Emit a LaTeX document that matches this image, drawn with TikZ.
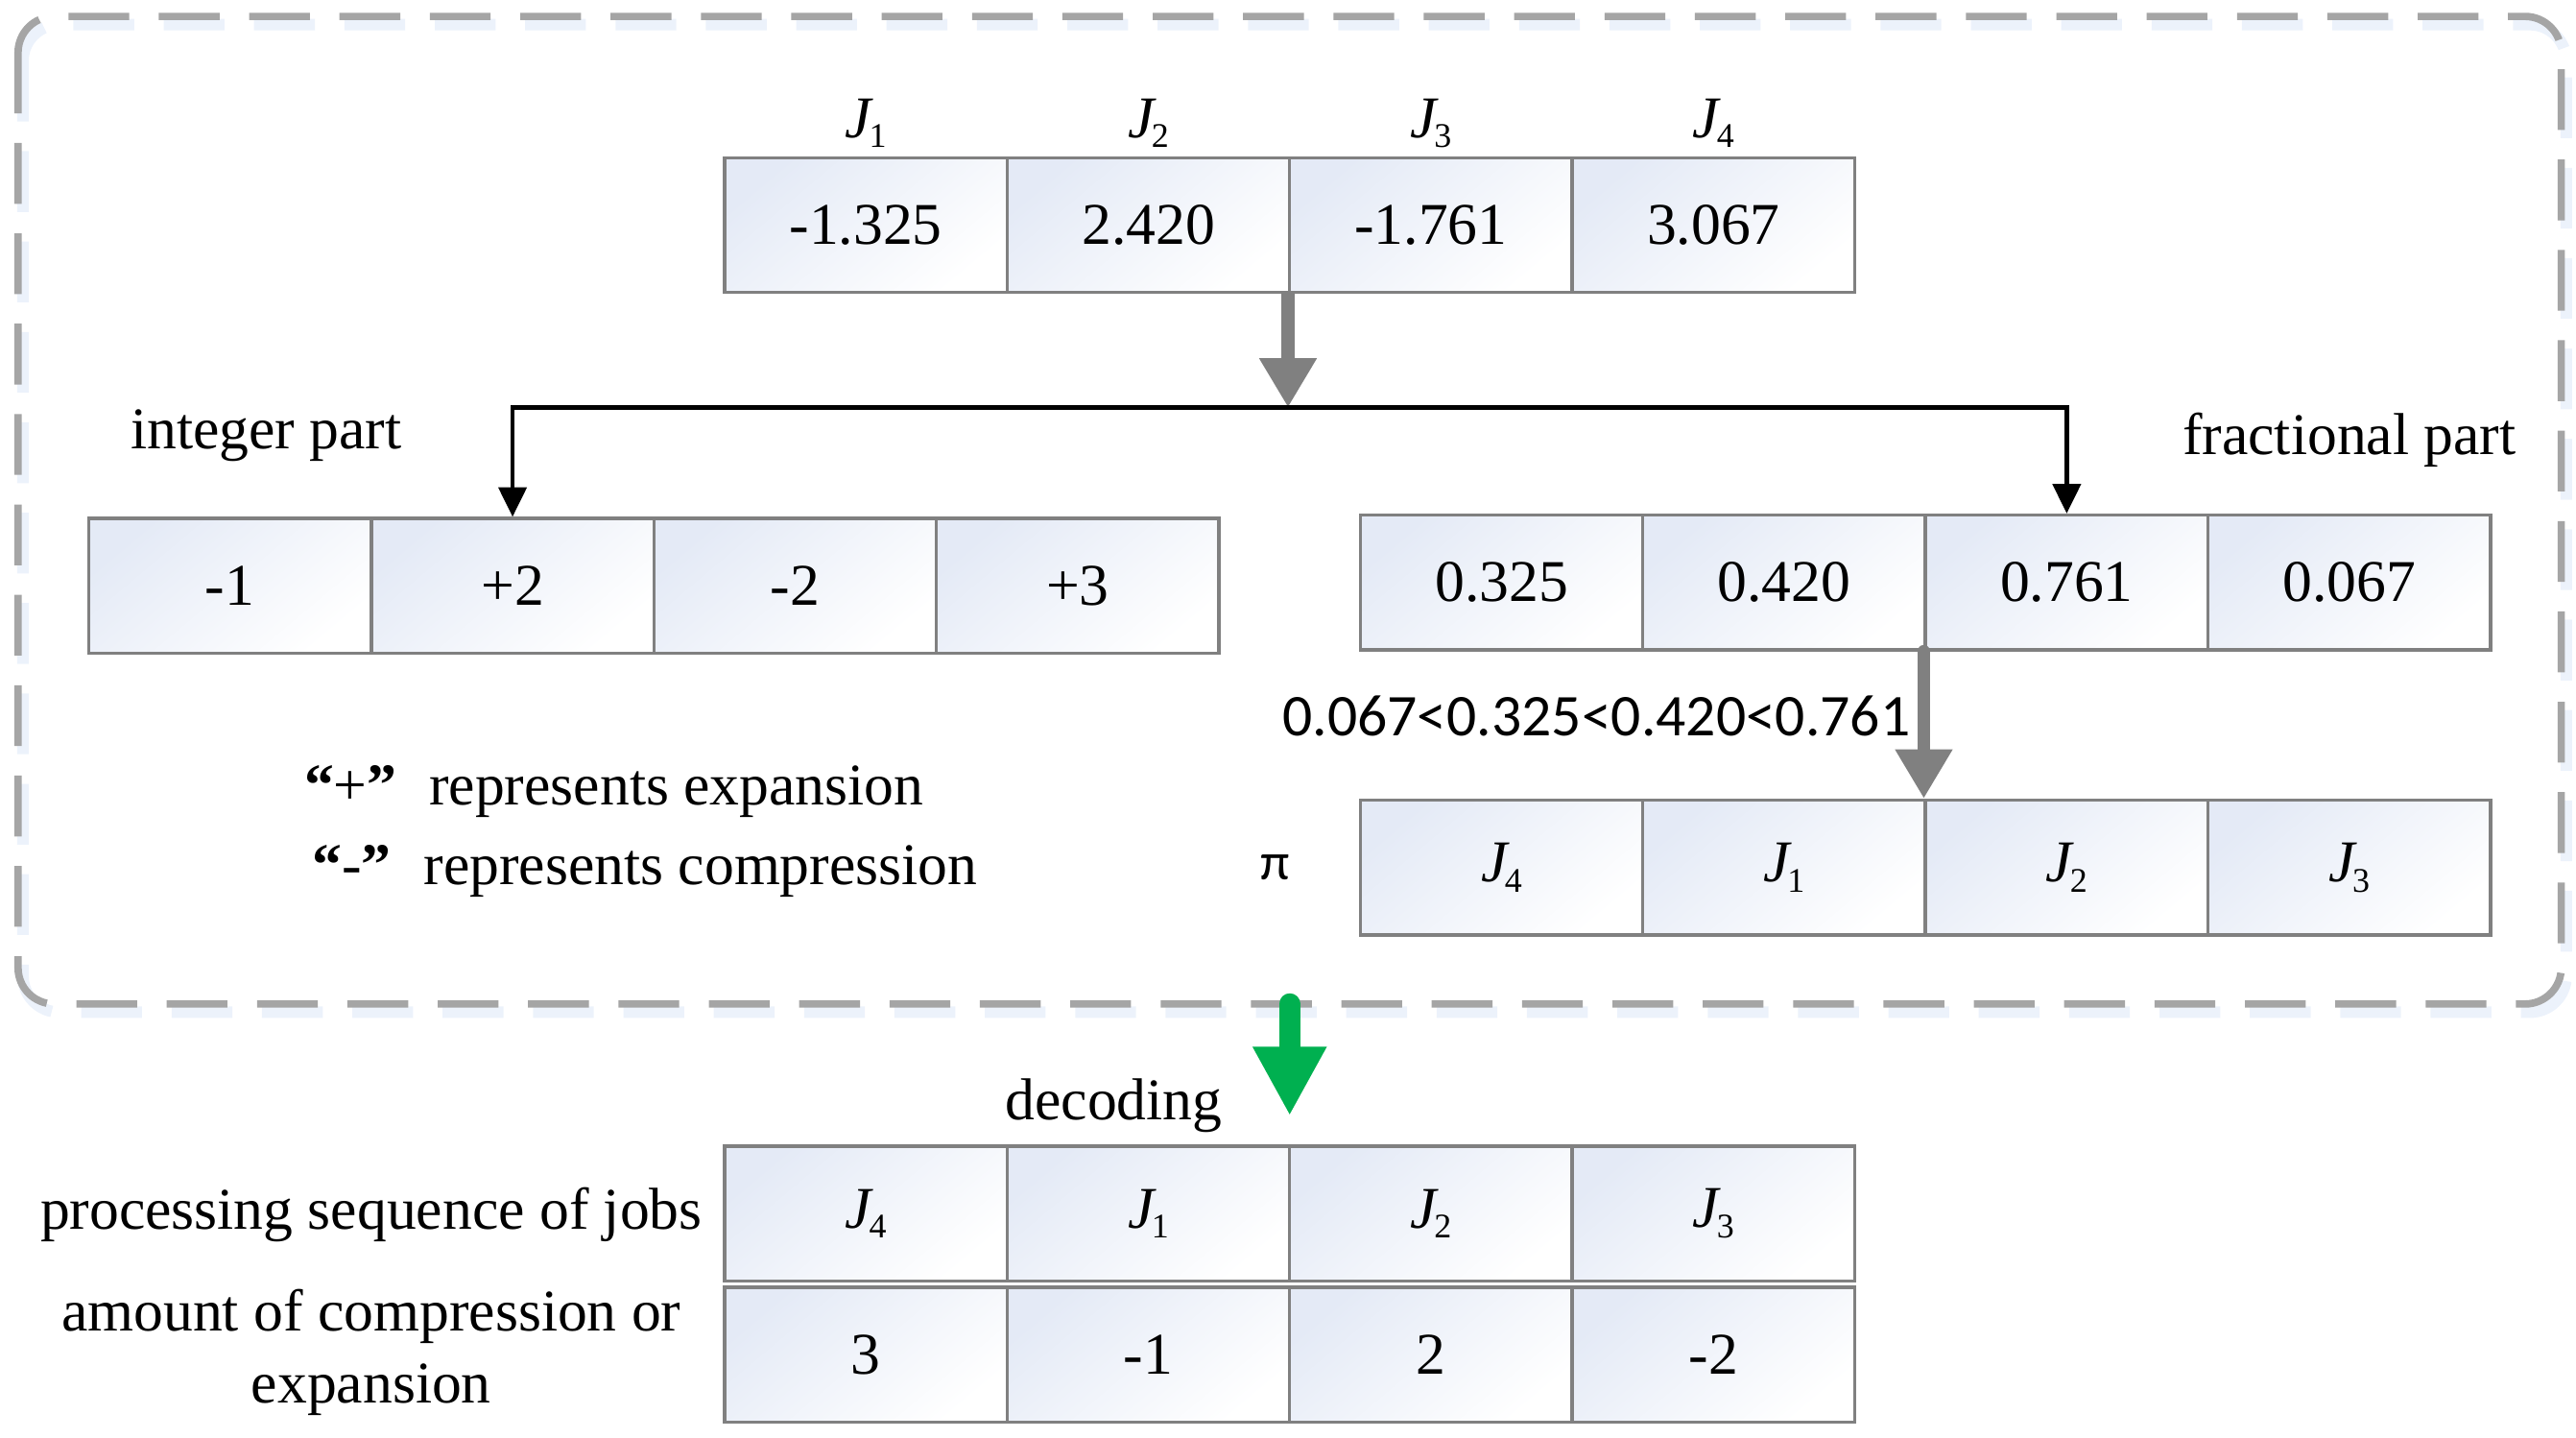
\documentclass[tikz,border=0pt]{standalone}
\usepackage{fontspec}
\setmainfont{Liberation Serif}
\newfontfamily\calfnt{Carlito}
\usetikzlibrary{arrows.meta}
\definecolor{cellblue}{RGB}{228,234,246}
\definecolor{boxgray}{RGB}{165,165,165}
\definecolor{shadowblue}{RGB}{236,242,251}
\definecolor{arrowgray}{RGB}{128,128,128}
\definecolor{arrowgreen}{RGB}{0,176,80}
\newcommand\bigfont{\fontsize{36pt}{43pt}\selectfont}
\newcommand\subfont{\fontsize{21pt}{21pt}\selectfont}
\newcommand\JJ[1]{\textit{J}\kern-0.08em\raisebox{-0.17em}{\subfont #1}}
\begin{document}
\begin{tikzpicture}[x=1pt,y=-1pt,
  cell/.style={draw=arrowgray, line width=2pt, minimum width=172pt, minimum height=82pt,
    inner sep=0pt, top color=cellblue, middle color=white, bottom color=white, shading angle=40, font=\bigfont},
  lbl/.style={inner sep=0pt, font=\bigfont},
  grayarrow/.style={draw=arrowgray, line width=8pt, -{Triangle[width=33pt,length=30pt]}},
  blackarrow/.style={draw=black, line width=2.5pt, -{Triangle[width=17pt,length=18pt]}},
  greenarrow/.style={draw=arrowgreen, line width=13pt, line cap=round, -{Triangle[width=42pt,length=42pt]}},
  dashbox/.style={line width=4.5pt, dash pattern=on 37pt off 18pt, rounded corners=22pt}]
\useasboundingbox (0,0) rectangle (1568,875);

% dashed frame with soft shadow
\draw[dashbox, draw=shadowblue, line width=7pt] (14,15) rectangle (1562,616);
\draw[dashbox, draw=boxgray] (11,10) rectangle (1559,611);

% top row
\foreach \v/\j [count=\i] in {-1.325/1, 2.420/2, -1.761/3, 3.067/4}{
  \node[cell] (t\i) at (355+172*\i,137) {\v};
  \node[lbl] (tl\i) at (355+172*\i,75) {\JJ{\j}};
}

% integer row
\foreach \v [count=\i] in {-1, +2, -2, +3}{
  \node[cell] (n\i) at (-32+172*\i,356.5) {\v};
}

% fractional row
\foreach \v [count=\i] in {0.325, 0.420, 0.761, 0.067}{
  \node[cell] (f\i) at (742+172*\i,354.5) {\v};
}

% permutation row
\foreach \j [count=\i] in {4,1,2,3}{
  \node[cell] (p\i) at (742+172*\i,528) {\JJ{\j}};
}

% decoded rows
\foreach \j [count=\i] in {4,1,2,3}{
  \node[cell] (d\i) at (355+172*\i,738.5) {\JJ{\j}};
}
\foreach \v [count=\i] in {3,-1,2,-2}{
  \node[cell] (e\i) at (355+172*\i,824.5) {\v};
}

% labels
\node[lbl] (intl) at (162,265) {integer part};
\node[lbl] (fracl) at (1430,268) {fractional part};
\node[lbl, font=\calfnt\fontsize{36pt}{43pt}\selectfont, anchor=east] (cmp) at (1163,436) {0.067<0.325<0.420<0.761};
\node[lbl, font=\calfnt\fontsize{32pt}{38pt}\selectfont] (pi) at (776,528) {π};
\node[lbl, anchor=west] (plus) at (185,482) {\textbf{“}+\textbf{”}\hspace{0.55em}represents expansion};
\node[lbl, anchor=west] (minus) at (190,530) {\textbf{“}-\textbf{”}\hspace{0.55em}represents compression};
\node[lbl] (dec) at (678,673) {decoding};
\node[lbl] (psj) at (226,739) {processing sequence of jobs};
\node[lbl, align=center, font=\fontsize{36pt}{44pt}\selectfont] (amt) at (226,823) {amount of compression or\\expansion};

% connectors
\coordinate (split) at (t3.south west |- 0,248);
\draw[grayarrow] (t3.south west) -- (split);
\draw[blackarrow] (split) -| (n2.north);
\draw[blackarrow] (split) -| (f3.north);
\draw[grayarrow, line cap=round] (f3.south west) -- (p3.north west);
\coordinate (gs) at (785,611);
\coordinate (ge) at (785,679);
\draw[greenarrow] (gs) -- (ge);
\end{tikzpicture}
\end{document}
